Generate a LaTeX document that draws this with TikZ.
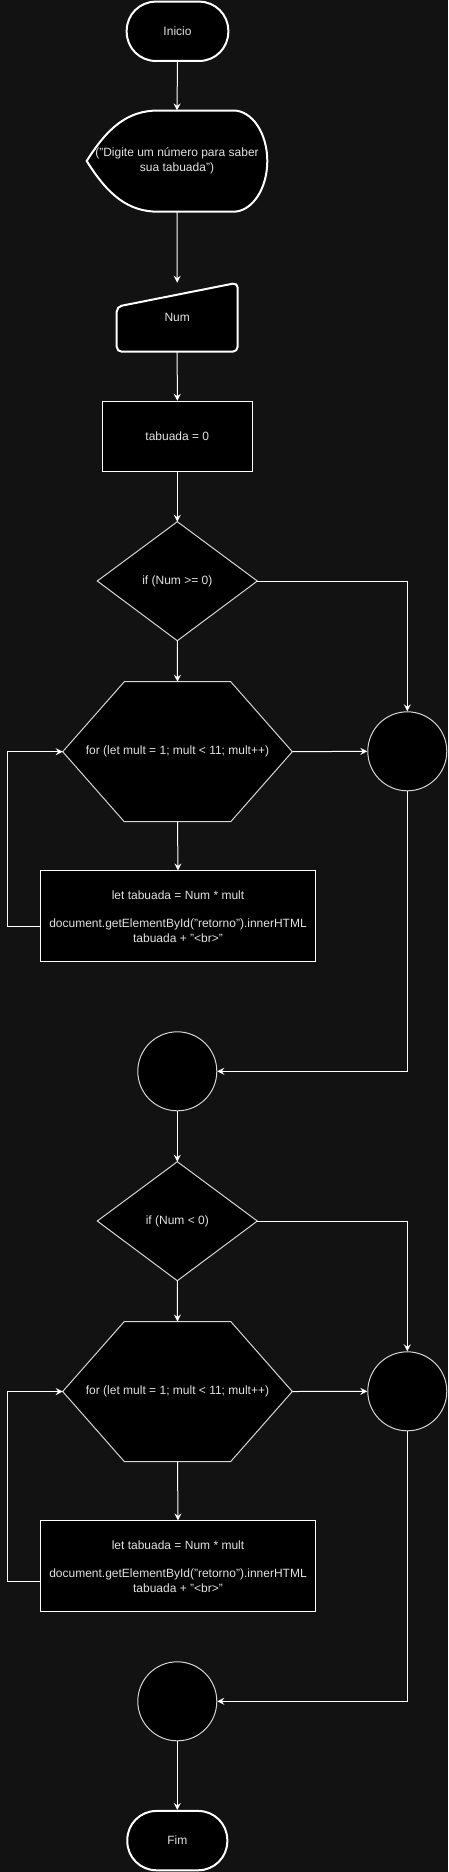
\documentclass[tikz,border=0pt]{standalone}
\usepackage{fontspec}
\setmainfont{Liberation Sans}
\usetikzlibrary{arrows.meta}
\definecolor{bg}{HTML}{121212}
\definecolor{txt}{HTML}{E2E2E2}
\definecolor{shapeline}{HTML}{D6D6D6}
\begin{document}
\begin{tikzpicture}[x=1pt,y=-1pt,
  every node/.style={font=\fontsize{12}{14.4}\selectfont, text=txt},
  arr/.style={draw=white, line width=1pt, -{Stealth[length=7pt,width=7pt,inset=2.5pt]}},
  term/.style={draw=white, line width=2pt, fill=black, rounded corners=29pt, inner sep=0},
  anchorbox/.style={inner sep=0, outer sep=0, align=center},
  procbox/.style={draw=white, line width=1pt, fill=black, inner sep=0, align=center},
  thinshape/.style={draw=shapeline, line width=1pt, fill=black},
  thickshape/.style={draw=white, line width=2pt, fill=black},
  conn/.style={circle, draw=shapeline, line width=1pt, fill=black, minimum size=79pt, inner sep=0}
]
\useasboundingbox (0,0) rectangle (448,1872);
\fill[bg] (0,0) rectangle (448,1872);

% ---- shapes drawn first ----
% display
\draw[thickshape] (86.7,161) .. controls (108,127) and (128,110.5) .. (158.3,110.5)
  -- (233.3,110.5) .. controls (252.1,110.5) and (267.3,133.2) .. (267.3,161)
  .. controls (267.3,188.8) and (252.1,211.7) .. (233.3,211.7)
  -- (158.3,211.7) .. controls (128,211.7) and (108,195) .. (86.7,161) -- cycle;
% manual input
\draw[thickshape, rounded corners=5pt] (116.7,306.7) -- (237.7,282.7) -- (237.7,351.7) -- (116.7,351.7) -- cycle;
% diamonds
\draw[thinshape] (97.3,581) -- (177.3,521.7) -- (257.3,581) -- (177.3,640.7) -- cycle;
\draw[thinshape] (97.3,1221) -- (177.3,1161.7) -- (257.3,1221) -- (177.3,1280.7) -- cycle;
% hexagons
\draw[thinshape] (62.7,751.7) -- (124.3,681.7) -- (230.7,681.7) -- (292.3,751.7) -- (230.7,821.7) -- (124.3,821.7) -- cycle;
\draw[thinshape] (62.7,1391.5) -- (124.3,1321.5) -- (230.7,1321.5) -- (292.3,1391.5) -- (230.7,1461.5) -- (124.3,1461.5) -- cycle;

% ---- nodes ----
\node[term, minimum width=101.6pt, minimum height=59.3pt] (ini) at (177.5,31.3) {Inicio};
\node[anchorbox, minimum width=180.6pt, minimum height=101.2pt] (disp) at (177,161)
  {(\char34 Digite um número para saber\\sua tabuada\char34)};
\node[anchorbox, minimum width=121pt, minimum height=69pt] (num) at (177.2,317.2) {Num};
\node[procbox, minimum width=150pt, minimum height=70pt] (tab0) at (177.3,436.3) {tabuada = 0};
\node[anchorbox, minimum width=160pt, minimum height=119pt] (if1) at (177.3,581.2) {if (Num >= 0)};
\node[anchorbox, minimum width=229.6pt, minimum height=140pt] (for1) at (177.5,751.7) {for (let mult = 1; mult < 11; mult++)};
\node[procbox, minimum width=275.4pt, minimum height=90.7pt] (body1) at (178,916.3)
  {let tabuada = Num * mult\\[14.4pt]document.getElementById(\char34 retorno\char34).innerHTML\\tabuada + \char34 <br>\char34};
\node[conn] (c1) at (407.3,751.3) {};
\node[conn] (c2) at (177.3,1071.3) {};
\node[anchorbox, minimum width=160pt, minimum height=119pt] (if2) at (177.3,1221.2) {if (Num < 0)};
\node[anchorbox, minimum width=229.6pt, minimum height=140pt] (for2) at (177.5,1391.5) {for (let mult = 1; mult < 11; mult++)};
\node[procbox, minimum width=275.4pt, minimum height=90.7pt] (body2) at (178,1566.3)
  {let tabuada = Num * mult\\[14.4pt]document.getElementById(\char34 retorno\char34).innerHTML\\tabuada + \char34 <br>\char34};
\node[conn] (c3) at (407.3,1391.3) {};
\node[conn] (c4) at (177.3,1701.3) {};
\node[term, minimum width=100pt, minimum height=59.3pt] (fim) at (177.3,1840.6) {Fim};

% ---- connectors ----
\draw[arr] (ini.south) -- (disp.north);
\draw[arr] (disp.south) -- (num.north);
\draw[arr] (num.south) -- (tab0.north);
\draw[arr] (tab0.south) -- (if1.north);
\draw[arr] (if1.south) -- (for1.north);
\draw[arr] (if1.east) -| (c1.north);
\draw[arr] (for1.east) -- (c1.west);
\draw[arr] (for1.south) -- (body1.north);
\draw[arr] (body1.west |- 0,926.7) -- (7.3,926.7) |- (for1.west);
\draw[arr] (c1.south) |- (c2.east);
\draw[arr] (c2.south) -- (if2.north);
\draw[arr] (if2.east) -| (c3.north);
\draw[arr] (if2.south) -- (for2.north);
\draw[arr] (for2.east) -- (c3.west);
\draw[arr] (for2.south) -- (body2.north);
\draw[arr] (body2.west |- 0,1581) -- (7.3,1581) |- (for2.west);
\draw[arr] (c3.south) |- (c4.east);
\draw[arr] (c4.south) -- (fim.north);
\end{tikzpicture}
\end{document}
